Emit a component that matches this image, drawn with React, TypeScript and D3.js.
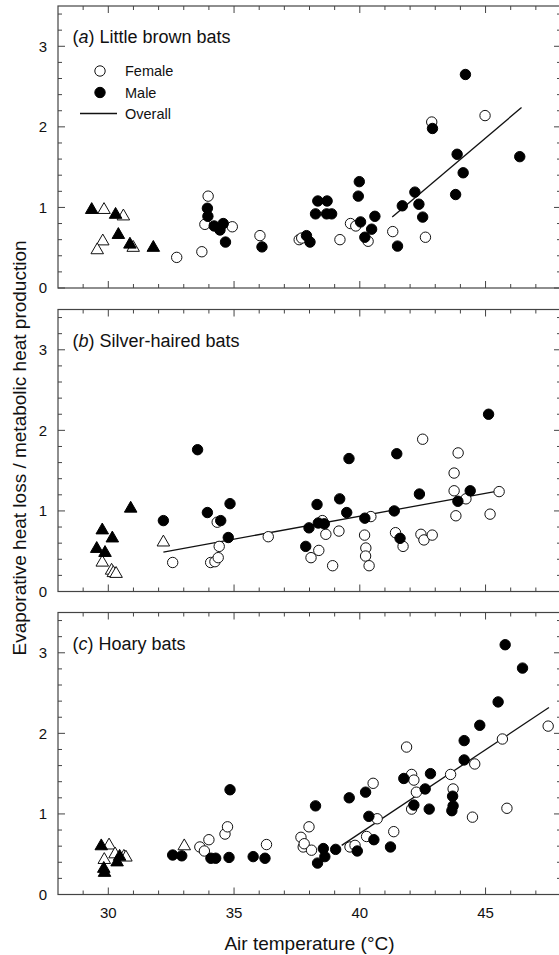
import React from 'react';
import * as d3 from 'd3';

type Pt = [number, number];

// Panel (a) Little brown bats
const aMaleTri: Pt[] = [[29.34, 0.97], [30.29, 0.91], [30.40, 0.66], [30.86, 0.54], [31.79, 0.50]];
const aFemaleTri: Pt[] = [[29.83, 0.97], [30.60, 0.89], [29.78, 0.58], [29.56, 0.47], [30.99, 0.50]];
const aFemale: Pt[] = [
  [32.72, 0.38], [33.72, 0.45], [33.97, 1.14], [33.84, 0.79], [34.93, 0.76], [36.03, 0.65],
  [37.59, 0.60], [37.69, 0.62], [39.21, 0.60], [39.63, 0.80], [39.84, 0.77], [40.33, 0.58],
  [41.31, 0.70], [42.61, 0.63], [42.86, 2.06], [44.98, 2.14],
];
const aMale: Pt[] = [
  [33.94, 0.99], [33.96, 0.89], [34.21, 0.77], [34.44, 0.72], [34.57, 0.80], [34.66, 0.57],
  [36.11, 0.51], [37.88, 0.65], [38.02, 0.57], [38.33, 1.08], [38.70, 1.08], [38.24, 0.92],
  [38.68, 0.92], [38.88, 0.92], [39.98, 1.32], [39.94, 1.14], [40.03, 0.82], [40.20, 0.63],
  [40.47, 0.73], [40.60, 0.89], [41.50, 0.52], [41.69, 1.02], [42.19, 1.19], [42.35, 1.04],
  [42.50, 0.88], [42.89, 1.98], [43.81, 1.16], [43.87, 1.66], [44.11, 1.43], [44.20, 2.65],
  [46.36, 1.63],
];
const aFit: Pt[] = [[41.29, 0.88], [46.43, 2.24]];

// Panel (b) Silver-haired bats
const bMaleTri: Pt[] = [[29.76, 0.76], [30.16, 0.66], [29.54, 0.53], [29.87, 0.48], [30.89, 1.03]];
const bFemaleTri: Pt[] = [[29.76, 0.36], [30.13, 0.26], [30.20, 0.23], [30.31, 0.22], [32.19, 0.61]];
const bFemale: Pt[] = [
  [32.56, 0.36], [34.07, 0.36], [34.24, 0.37], [34.37, 0.42], [34.41, 0.56], [34.33, 0.86],
  [36.36, 0.68], [38.06, 0.42], [38.37, 0.51], [38.51, 0.88], [38.65, 0.71], [38.92, 0.32],
  [39.17, 0.75], [40.19, 0.70], [40.24, 0.54], [40.23, 0.44], [40.37, 0.32], [40.44, 0.93],
  [41.42, 0.73], [41.72, 0.56], [42.43, 0.71], [42.55, 0.64], [42.88, 0.70], [42.50, 1.89],
  [43.75, 1.47], [43.91, 1.72], [43.75, 1.25], [43.82, 0.94], [44.22, 1.15], [45.18, 0.96],
  [45.54, 1.24],
];
const bMale: Pt[] = [
  [32.19, 0.88], [33.55, 1.76], [33.94, 0.98], [34.47, 0.88], [34.84, 1.09], [34.77, 0.67],
  [37.85, 0.56], [37.98, 0.79], [38.30, 1.08], [38.35, 0.85], [38.59, 0.84], [39.20, 1.15],
  [39.48, 0.98], [39.57, 1.65], [40.20, 0.91], [41.37, 1.00], [41.47, 1.71], [41.60, 0.66],
  [42.37, 1.21], [43.90, 1.12], [44.39, 1.25], [45.12, 2.20],
];
const bFit: Pt[] = [[32.19, 0.49], [45.37, 1.24]];

// Panel (c) Hoary bats
const cMaleTri: Pt[] = [[29.72, 0.60], [29.82, 0.32], [29.85, 0.27], [30.35, 0.40], [30.45, 0.47]];
const cFemaleTri: Pt[] = [[30.03, 0.61], [29.84, 0.43], [30.27, 0.50], [30.62, 0.47], [30.70, 0.46], [33.02, 0.60]];
const cFemale: Pt[] = [
  [33.64, 0.59], [33.82, 0.54], [34.00, 0.68], [34.64, 0.75], [34.74, 0.84], [36.29, 0.62],
  [37.66, 0.71], [37.75, 0.59], [37.79, 0.63], [37.98, 0.84], [38.08, 0.55], [39.61, 0.59],
  [39.81, 0.61], [40.27, 0.72], [40.53, 1.38], [40.69, 0.94], [41.35, 0.78], [41.86, 1.83],
  [42.06, 1.49], [42.15, 1.42], [42.25, 1.27], [42.06, 1.06], [43.61, 1.49], [43.71, 1.31],
  [44.48, 0.96], [44.57, 1.62], [45.67, 1.93], [45.85, 1.07], [47.49, 2.09],
];
const cMale: Pt[] = [
  [32.56, 0.49], [32.92, 0.48], [34.08, 0.45], [34.27, 0.45], [34.80, 0.46], [34.84, 1.30],
  [35.76, 0.47], [36.23, 0.45], [38.32, 0.39], [38.55, 0.57], [38.61, 0.47], [38.24, 1.10],
  [39.04, 0.56], [39.58, 1.20], [39.90, 0.54], [40.23, 1.27], [40.36, 0.97], [40.56, 0.68],
  [41.22, 0.59], [41.75, 1.44], [42.15, 1.11], [42.60, 1.31], [42.81, 1.50], [42.76, 1.06],
  [43.69, 1.22], [43.71, 1.10], [43.66, 1.04], [44.15, 1.67], [44.15, 1.91], [44.77, 2.10],
  [45.50, 2.39], [45.78, 3.10], [46.47, 2.81],
];
const cFit: Pt[] = [[39.28, 0.61], [47.52, 2.32]];

const xDomain: Pt = [28, 48];
const yDomain: Pt = [0, 3.5];
const xMajor = [30, 35, 40, 45];
const yMajor = [0, 1, 2, 3];
const legendItems = ['Female', 'Male', 'Overall'];

const panels = [
  { letter: 'a', name: 'Little brown bats', maleTri: aMaleTri, femaleTri: aFemaleTri, female: aFemale, male: aMale, fit: aFit, legend: true },
  { letter: 'b', name: 'Silver-haired bats', maleTri: bMaleTri, femaleTri: bFemaleTri, female: bFemale, male: bMale, fit: bFit, legend: false },
  { letter: 'c', name: 'Hoary bats', maleTri: cMaleTri, femaleTri: cFemaleTri, female: cFemale, male: cMale, fit: cFit, legend: false },
];

const W = 559;
const H = 955;
const left = 58;
const right = 561;
const tops = [6, 309.5, 612.5];
const ph = 282;
const font = '"Liberation Sans", Arial, sans-serif';
const frameColor = '#444';

const x = d3.scaleLinear().domain(xDomain).range([left, right]);
const xMinor = d3.range(xDomain[0] + 1, xDomain[1], 1).filter((v) => !xMajor.includes(v));
const yMinorVals = d3.range(1, 18).map((i) => +(i * 0.2).toFixed(1)).filter((v) => !yMajor.includes(v));

const triPath = d3.symbol().type(d3.symbolTriangle).size(68)();

function Panel({ p, top, showX }: { p: typeof panels[number]; top: number; showX: boolean }) {
  const y = d3.scaleLinear().domain(yDomain).range([top + ph, top]);
  const bottom = top + ph;
  const line = d3.line<Pt>().x((d) => x(d[0])).y((d) => y(d[1]));
  const r = 5.2;
  return (
    <g>
      {/* frame */}
      <rect x={left} y={top} width={right - left} height={ph} fill="none" stroke={frameColor} strokeWidth={1.2} />
      {/* x ticks, inward on bottom and top */}
      {xMajor.map((v) => (
        <g key={'xM' + v} stroke={frameColor} strokeWidth={1}>
          <line x1={x(v)} x2={x(v)} y1={bottom} y2={bottom - 7} />
          <line x1={x(v)} x2={x(v)} y1={top} y2={top + 7} />
        </g>
      ))}
      {xMinor.map((v) => (
        <g key={'xm' + v} stroke={frameColor} strokeWidth={1}>
          <line x1={x(v)} x2={x(v)} y1={bottom} y2={bottom - 4} />
          <line x1={x(v)} x2={x(v)} y1={top} y2={top + 4} />
        </g>
      ))}
      {yMajor.map((v) => (
        <g key={'yM' + v} stroke={frameColor} strokeWidth={1}>
          <line x1={left} x2={left + 7} y1={y(v)} y2={y(v)} />
          <line x1={right} x2={right - 7} y1={y(v)} y2={y(v)} />
        </g>
      ))}
      {yMinorVals.map((v) => (
        <g key={'ym' + v} stroke={frameColor} strokeWidth={1}>
          <line x1={left} x2={left + 4} y1={y(v)} y2={y(v)} />
          <line x1={right} x2={right - 4} y1={y(v)} y2={y(v)} />
        </g>
      ))}
      {yMajor.map((v) => (
        <text key={'yl' + v} x={left - 11} y={y(v)} dy="0.36em" textAnchor="end" fontSize={15} fill="#111">
          {v}
        </text>
      ))}
      {showX &&
        xMajor.map((v) => (
          <text key={'xl' + v} x={x(v)} y={bottom + 23} textAnchor="middle" fontSize={15} fill="#111">
            {v}
          </text>
        ))}
      {/* title */}
      <text x={72.5} y={top + 37} fontSize={18} fill="#111">
        (<tspan fontStyle="italic">{p.letter}</tspan>) {p.name}
      </text>
      {/* fit line */}
      <path d={line(p.fit) || ''} fill="none" stroke="#111" strokeWidth={1.3} />
      {/* triangles */}
      {p.femaleTri.map((d, i) => (
        <path key={'ft' + i} d={triPath || ''} transform={`translate(${x(d[0])},${y(d[1])})`} fill="#fff" stroke="#111" strokeWidth={1} />
      ))}
      {p.maleTri.map((d, i) => (
        <path key={'mt' + i} d={triPath || ''} transform={`translate(${x(d[0])},${y(d[1])})`} fill="#000" stroke="#000" strokeWidth={1} />
      ))}
      {p.female.map((d, i) => (
        <circle key={'f' + i} cx={x(d[0])} cy={y(d[1])} r={r} fill="#fff" stroke="#111" strokeWidth={1} />
      ))}
      {p.male.map((d, i) => (
        <circle key={'m' + i} cx={x(d[0])} cy={y(d[1])} r={r} fill="#000" stroke="#000" strokeWidth={1} />
      ))}
      {p.legend && (
        <g fontSize={14.5} fill="#111">
          <circle cx={100} cy={top + 65} r={r} fill="#fff" stroke="#111" strokeWidth={1} />
          <text x={125} y={top + 65} dy="0.36em">{legendItems[0]}</text>
          <circle cx={100} cy={top + 86.5} r={r} fill="#000" stroke="#000" strokeWidth={1} />
          <text x={125} y={top + 86.5} dy="0.36em">{legendItems[1]}</text>
          <line x1={80} x2={117} y1={top + 107.5} y2={top + 107.5} stroke="#111" strokeWidth={1.3} />
          <text x={125} y={top + 107.5} dy="0.36em">{legendItems[2]}</text>
        </g>
      )}
    </g>
  );
}

export default function App() {
  return (
    <svg
      width={W}
      height={H}
      style={{ position: 'absolute', left: 0, top: 0, background: '#fff' }}
      fontFamily={font}
    >
      <rect width={W} height={H} fill="#fff" />
      {panels.map((p, i) => (
        <Panel key={p.letter} p={p} top={tops[i]} showX={i === panels.length - 1} />
      ))}
      <text
        transform={`translate(26,448) rotate(-90)`}
        textAnchor="middle"
        fontSize={19}
        fill="#111"
      >
        Evaporative heat loss / metabolic heat production
      </text>
      <text x={(left + right) / 2} y={950} textAnchor="middle" fontSize={19} fill="#111">
        Air temperature (°C)
      </text>
    </svg>
  );
}
